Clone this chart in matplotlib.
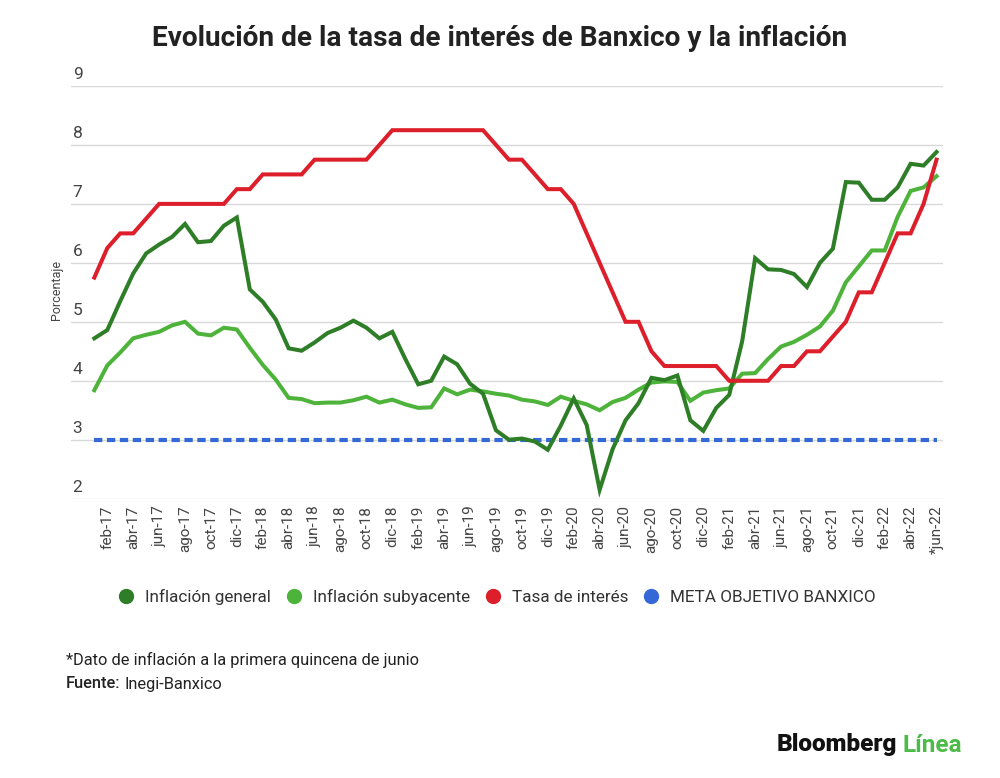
import matplotlib
matplotlib.use("Agg")
import matplotlib.pyplot as plt
from matplotlib.lines import Line2D

plt.rcParams['font.family'] = ['Roboto', 'DejaVu Sans']

meses = ['ene-17', 'feb-17', 'mar-17', 'abr-17', 'may-17', 'jun-17', 'jul-17', 'ago-17', 'sep-17', 'oct-17', 'nov-17', 'dic-17',
         'ene-18', 'feb-18', 'mar-18', 'abr-18', 'may-18', 'jun-18', 'jul-18', 'ago-18', 'sep-18', 'oct-18', 'nov-18', 'dic-18',
         'ene-19', 'feb-19', 'mar-19', 'abr-19', 'may-19', 'jun-19', 'jul-19', 'ago-19', 'sep-19', 'oct-19', 'nov-19', 'dic-19',
         'ene-20', 'feb-20', 'mar-20', 'abr-20', 'may-20', 'jun-20', 'jul-20', 'ago-20', 'sep-20', 'oct-20', 'nov-20', 'dic-20',
         'ene-21', 'feb-21', 'mar-21', 'abr-21', 'may-21', 'jun-21', 'jul-21', 'ago-21', 'sep-21', 'oct-21', 'nov-21', 'dic-21',
         'ene-22', 'feb-22', 'mar-22', 'abr-22', 'may-22', '*jun-22']

inflacion_general = [4.72, 4.86, 5.35, 5.82, 6.16, 6.31, 6.44, 6.66, 6.35, 6.37, 6.63, 6.77,
                     5.55, 5.34, 5.04, 4.55, 4.51, 4.65, 4.81, 4.90, 5.02, 4.90, 4.72, 4.83,
                     4.37, 3.94, 4.00, 4.41, 4.28, 3.95, 3.78, 3.16, 3.00, 3.02, 2.97, 2.83,
                     3.24, 3.70, 3.25, 2.15, 2.84, 3.33, 3.62, 4.05, 4.01, 4.09, 3.33, 3.15,
                     3.54, 3.76, 4.67, 6.08, 5.89, 5.88, 5.81, 5.59, 6.00, 6.24, 7.37, 7.36,
                     7.07, 7.07, 7.28, 7.68, 7.65, 7.88]

inflacion_subyacente = [3.84, 4.26, 4.48, 4.72, 4.78, 4.83, 4.94, 5.00, 4.80, 4.77, 4.90, 4.87,
                        4.56, 4.27, 4.02, 3.71, 3.69, 3.62, 3.63, 3.63, 3.67, 3.73, 3.63, 3.68,
                        3.60, 3.54, 3.55, 3.87, 3.77, 3.85, 3.82, 3.78, 3.75, 3.68, 3.65, 3.59,
                        3.73, 3.66, 3.60, 3.50, 3.64, 3.71, 3.85, 3.97, 3.99, 3.98, 3.66, 3.80,
                        3.84, 3.87, 4.12, 4.13, 4.37, 4.58, 4.66, 4.78, 4.92, 5.19, 5.67, 5.94,
                        6.21, 6.21, 6.78, 7.22, 7.28, 7.47]

tasa_interes = [5.75, 6.25, 6.50, 6.50, 6.75, 7.00, 7.00, 7.00, 7.00, 7.00, 7.00, 7.25,
                7.25, 7.50, 7.50, 7.50, 7.50, 7.75, 7.75, 7.75, 7.75, 7.75, 8.00, 8.25,
                8.25, 8.25, 8.25, 8.25, 8.25, 8.25, 8.25, 8.00, 7.75, 7.75, 7.50, 7.25,
                7.25, 7.00, 6.50, 6.00, 5.50, 5.00, 5.00, 4.50, 4.25, 4.25, 4.25, 4.25,
                4.25, 4.00, 4.00, 4.00, 4.00, 4.25, 4.25, 4.50, 4.50, 4.75, 5.00, 5.50,
                5.50, 6.00, 6.50, 6.50, 7.00, 7.75]

meta_objetivo = 3.0

series_names = ['Inflación general', 'Inflación subyacente', 'Tasa de interés', 'META OBJETIVO BANXICO']
colors = ['#2E7D27', '#4DB33A', '#DC1F2A', '#3468D6']
y_ticks = [2, 3, 4, 5, 6, 7, 8, 9]

fig = plt.figure(figsize=(10, 7.78), dpi=100)
ax = fig.add_axes([0.071, 0.359, 0.872, 0.5305])

x = list(range(len(meses)))
ax.plot(x, inflacion_general, color=colors[0], lw=2.9, solid_joinstyle='miter', zorder=4)
ax.plot(x, inflacion_subyacente, color=colors[1], lw=2.9, solid_joinstyle='miter', zorder=3)
ax.plot(x, tasa_interes, color=colors[2], lw=2.9, solid_joinstyle='miter', zorder=5)
ax.plot(x, [meta_objetivo] * len(meses), color=colors[3], lw=3, dashes=(2, 1.1),
        dash_capstyle='butt', zorder=2)

ax.set_xlim(-1.8, len(meses) - 1 + 0.5)
ax.set_ylim(2, 9)
ax.set_yticks(y_ticks)
ax.yaxis.grid(True, color='#d9d9d9', lw=1)
ax.set_axisbelow(True)
ax.tick_params(axis='y', length=0, labelleft=False)
for v in y_ticks:
    ax.text(0.002, v + 0.07, str(v), transform=ax.get_yaxis_transform(),
            ha='left', va='bottom', fontsize=12.5, color='#444444')

tick_pos = x[1::2]
ax.set_xticks(tick_pos)
ax.set_xticklabels([meses[i] for i in tick_pos], rotation=90, fontsize=11, color='#444444')
ax.tick_params(axis='x', length=0, pad=5)
for s in ax.spines.values():
    s.set_visible(False)

fig.text(0.057, 1 - 290 / 778, 'Porcentaje', rotation=90, ha='center', va='center',
         fontsize=9, color='#444444')

fig.text(0.5, 1 - 38 / 778, 'Evolución de la tasa de interés de Banxico y la inflación',
         ha='center', va='center', fontsize=20.2, fontweight='bold', color='#222222')

handles = [Line2D([], [], ls='none', marker='o', markersize=10, color=c) for c in colors]
fig.legend(handles, series_names, loc='center', bbox_to_anchor=(0.4965, 1 - 597 / 778),
           ncol=4, frameon=False, fontsize=12.3, handletextpad=0.6, columnspacing=0.85,
           handlelength=1.0, labelcolor='#333333')

fig.text(0.066, 1 - 660 / 778, '*Dato de inflación a la primera quincena de junio',
         ha='left', va='center', fontsize=11.8, color='#222222')
fig.text(0.066, 1 - 684 / 778, 'Fuente:', ha='left', va='center', fontsize=11.8,
         color='#222222', fontweight='medium')
fig.text(0.1245, 1 - 684 / 778, 'Inegi-Banxico', ha='left', va='center', fontsize=11.8,
         color='#222222')

fig.text(0.897, 1 - 745 / 778, 'Bloomberg', ha='right', va='center', fontsize=17.5,
         fontweight='black', color='#111111')
fig.text(0.903, 1 - 745 / 778, 'Línea', ha='left', va='center', fontsize=17.5,
         fontweight='bold', color='#4CBB47')

fig.savefig('out.png', dpi=100)
